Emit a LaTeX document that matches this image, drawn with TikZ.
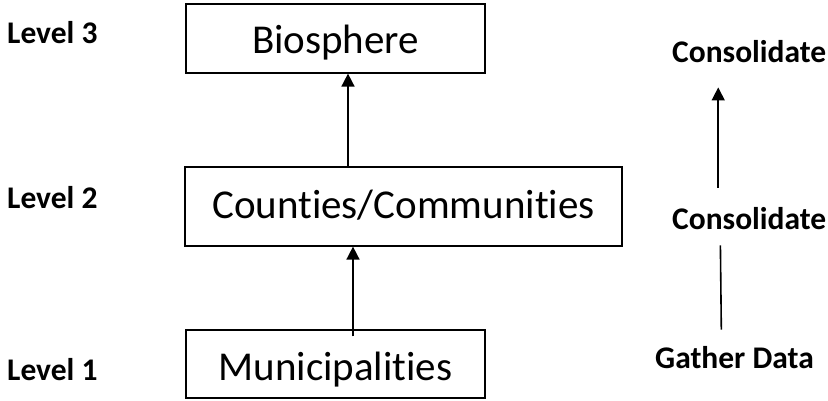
\documentclass[tikz,border=0pt]{standalone}
\usepackage{fontspec}
\setmainfont{Carlito}[Ligatures=NoCommon]
\usetikzlibrary{arrows.meta}
\tikzset{
levelbox/.style={
	  draw, line width=1.2pt, rectangle, inner sep=0pt, text depth=0pt,
	    minimum height=69pt, font=\fontsize{41}{48}\selectfont},
sidelabel/.style={inner sep=0pt, anchor=base west, font=\fontsize{31.5}{36}\selectfont\bfseries},
flow/.style={-{Triangle[length=13pt,width=13pt]}, line width=1.6pt}
}

\begin{document}
\begin{tikzpicture}[x=1pt, y=-1pt]
	\useasboundingbox (0,0) rectangle (828,400);
	% the three levels
	\node[levelbox, minimum width=299pt, text height=29pt] (bio) at (335.5,38.5) {Biosphere};
	\node[levelbox, minimum width=437pt, minimum height=79pt, text height=23pt] (cty) at (403.5,206.5) {Counties/Communities};
	\node[levelbox, minimum width=299pt, minimum height=68pt, text height=32pt] (mun) at (335.5,364) {Municipalities};
	\node[sidelabel] (lv3) at (7,43) {Level 3};
	\node[sidelabel] (lv2) at (7,208) {Level 2};
	\node[sidelabel] (lv1) at (7,380) {Level 1};
	% what happens at each level
	\node[sidelabel] (con2) at (672,62) {Consolidate};
	\node[sidelabel] (con1) at (672,229) {Consolidate};
	\node[sidelabel] (gath) at (655,368) {Gather Data};
	\draw[flow] ([xshift=12.5pt]bio.south |- cty.north) -- ([xshift=12.5pt]bio.south);
	\draw[flow] ([xshift=17.5pt,yshift=-7pt]mun.north) -- ([xshift=17.5pt]mun.north |- cty.south);
	\draw[flow, shorten <=19pt, shorten >=25pt] ([xshift=-31pt]con1.north) -- ([xshift=-31pt]con2.south);
	\draw[line width=1.6pt, shorten <=16pt, shorten >=16pt] ([xshift=-13pt]gath.north) -- ([xshift=-29pt]con1.south);
\end{tikzpicture}
\end{document}
